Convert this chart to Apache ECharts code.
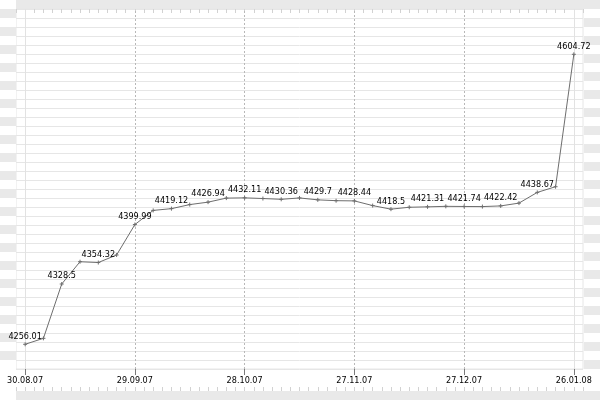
<!DOCTYPE html>
<html>
<head>
<meta charset="utf-8">
<script src="https://cdn.jsdelivr.net/npm/echarts@6/dist/echarts.min.js"></script>
<style>
  html, body { margin: 0; padding: 0; background: #fff; }
  #chart { width: 600px; height: 400px; }
</style>
</head>
<body>
<div id="chart"></div>
<script>
// ---- data ----
const dates = [
  '30.08.07','04.09.07','09.09.07','14.09.07','19.09.07','24.09.07',
  '29.09.07','04.10.07','09.10.07','14.10.07','18.10.07','23.10.07',
  '28.10.07','02.11.07','07.11.07','12.11.07','17.11.07','22.11.07',
  '27.11.07','02.12.07','07.12.07','12.12.07','17.12.07','22.12.07',
  '27.12.07','01.01.08','06.01.08','11.01.08','16.01.08','21.01.08',
  '26.01.08'
];
const values = [
  4256.01, 4263.2, 4328.5, 4355.3, 4354.32, 4363.4,
  4399.99, 4417.0, 4419.12, 4424.0, 4426.94, 4431.8,
  4432.11, 4431.3, 4430.36, 4432.0, 4429.7, 4428.7,
  4428.44, 4422.8, 4418.5, 4420.8, 4421.31, 4421.9,
  4421.74, 4421.6, 4422.42, 4425.8, 4438.67, 4445.5,
  4604.72
];
const labelEvery = 2;      // value labels on every 2nd point
const dateLabelEvery = 6;  // date labels on every 6th point
const yMin = 4226.3;
const yMax = 4659.2;

// ---- chart ----
const FONT = "'DejaVu Sans Condensed', 'Liberation Sans', sans-serif";
const BAND = '#e9e9e9';
const GRIDLINE = '#e6e6e6';
const chart = echarts.init(document.getElementById('chart'), null, { renderer: 'canvas' });

const dashedIdx = [];
for (let i = dateLabelEvery; i < dates.length - 1; i += dateLabelEvery) dashedIdx.push(i);

chart.setOption({
  animation: false,
  backgroundColor: '#fff',
  textStyle: { fontFamily: FONT },
  graphic: [
    { type: 'rect', left: 16, top: 0, shape: { width: 584, height: 9 }, style: { fill: BAND }, silent: true, z: -10 },
    { type: 'rect', left: 16, top: 391, shape: { width: 584, height: 9 }, style: { fill: BAND }, silent: true, z: -10 }
  ],
  grid: [
    { left: 16, right: 17, top: 9, bottom: 31, show: true, backgroundColor: '#fff', borderColor: GRIDLINE, borderWidth: 1 },
    { left: 0, width: 16, top: 9, height: 360, show: false },
    { left: 584, width: 16, top: 9, height: 360, show: false }
  ],
  xAxis: [
    { // data category axis
      type: 'category', gridIndex: 0, data: dates, boundaryGap: true,
      axisLine: { show: false },
      axisTick: { show: true, alignWithLabel: true, interval: dateLabelEvery - 1, length: 6, lineStyle: { color: '#7a7a7a' } },
      axisLabel: { interval: dateLabelEvery - 1, margin: 7, fontSize: 9, color: '#000', fontFamily: FONT },
      splitLine: { show: false }
    },
    { // minor ticks top
      type: 'value', gridIndex: 0, position: 'top', min: 0, max: dates.length * 2, interval: 1,
      axisLine: { show: false }, axisLabel: { show: false }, splitLine: { show: false },
      axisTick: { show: true, inside: true, length: 4, lineStyle: { color: '#d2d2d2' } }
    },
    { // minor ticks bottom
      type: 'value', gridIndex: 0, position: 'bottom', offset: 22, min: 0, max: dates.length * 2, interval: 1,
      axisLine: { show: false }, axisLabel: { show: false }, splitLine: { show: false },
      axisTick: { show: true, inside: true, length: 4, lineStyle: { color: '#d2d2d2' } }
    },
    { type: 'value', gridIndex: 1, show: false, min: 0, max: 1 },
    { type: 'value', gridIndex: 2, show: false, min: 0, max: 1 }
  ],
  yAxis: [
    { // data value axis
      type: 'value', gridIndex: 0, min: yMin, max: yMax,
      show: false, splitLine: { show: false }
    },
    { // horizontal grid lines
      type: 'value', gridIndex: 0, min: 0, max: 40, interval: 1,
      axisLine: { show: false }, axisTick: { show: false }, axisLabel: { show: false },
      splitLine: { show: true, lineStyle: { color: GRIDLINE, width: 1 } }
    },
    { // left banded strip
      type: 'value', gridIndex: 1, min: 0, max: 40, interval: 1,
      axisLine: { show: false }, axisTick: { show: false }, axisLabel: { show: false },
      splitLine: { show: false },
      splitArea: { show: true, areaStyle: { color: ['#ffffff', BAND] } }
    },
    { // right banded strip
      type: 'value', gridIndex: 2, min: 0, max: 40, interval: 1,
      axisLine: { show: false }, axisTick: { show: false }, axisLabel: { show: false },
      splitLine: { show: false },
      splitArea: { show: true, areaStyle: { color: [BAND, '#ffffff'] } }
    }
  ],
  series: [
    {
      type: 'line',
      xAxisIndex: 0, yAxisIndex: 0,
      data: values,
      symbol: 'path://M5,0L5,10M0,5L10,5',
      symbolSize: 4,
      showAllSymbol: true,
      lineStyle: { color: '#6e6e6e', width: 1 },
      itemStyle: { color: '#6e6e6e', borderColor: '#6e6e6e', borderWidth: 1 },
      label: {
        show: true, position: 'top', distance: 1,
        fontSize: 9, color: '#000', fontFamily: FONT,
        formatter: p => (p.dataIndex % labelEvery === 0 ? String(p.value) : '')
      },
      emphasis: { disabled: true },
      markLine: {
        silent: true, symbol: 'none', label: { show: false },
        data: [
          ...[0, dates.length - 1].map(i => ({ xAxis: dates[i], lineStyle: { type: 'solid', color: '#e2e2e2', width: 1 } })),
          ...dashedIdx.map(i => ({ xAxis: dates[i], lineStyle: { type: [2, 2], color: '#b8b8b8', width: 1 } }))
        ]
      },
      z: 5
    }
  ]
});
</script>
</body>
</html>
